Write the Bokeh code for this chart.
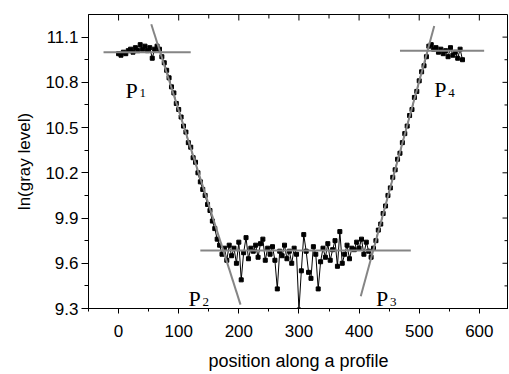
from bokeh.plotting import figure
from bokeh.models import Range1d, FixedTicker, PrintfTickFormatter
from bokeh.core.properties import value
from bokeh.embed import file_html
from bokeh.resources import INLINE

# ---- data: position along the profile and ln(gray level) ----
position = [
    0, 4, 8, 12, 16, 20, 24, 28, 32, 36, 40, 44, 48, 52, 56, 60, 64,
    68, 72, 76, 80, 84, 88, 92, 96, 100, 104, 108, 112, 116, 120, 124, 128,
    132, 136, 140, 144, 148, 152, 156, 160, 164, 168, 172, 176,
    180, 184, 188, 192, 196, 200, 204, 208, 212, 216, 220, 224, 228, 232,
    236, 240, 244, 248, 252, 256, 260, 264, 268, 272, 276, 280, 284, 288,
    292, 296, 300, 304, 308, 312, 316, 320, 324, 328, 332, 336, 340, 344,
    348, 352, 356, 360, 364, 368, 372, 376, 380, 384, 388, 392, 396, 400,
    404, 408, 412, 416, 420,
    424, 428, 432, 436, 440, 444, 448, 452, 456, 460, 464, 468, 472, 476,
    480, 484, 488, 492, 496, 500, 504, 508, 512, 516,
    520, 524, 528, 532, 536, 540, 544, 548, 552, 556, 560, 564, 568, 572,
]
ln_gray = [
    10.99, 10.98, 11.00, 10.99, 11.01, 11.02, 11.00, 11.03, 11.01, 11.05,
    11.02, 11.04, 11.01, 11.03, 10.96, 11.02, 11.04,
    11.02, 10.97, 10.93, 10.88, 10.83, 10.77, 10.73, 10.66, 10.62, 10.57,
    10.51, 10.47, 10.40, 10.37, 10.30, 10.27,
    10.20, 10.14, 10.09, 10.05, 9.99, 9.95, 9.88, 9.83, 9.76, 9.72, 9.66, 9.70,
    9.62, 9.72, 9.65, 9.70, 9.60, 9.74, 9.49, 9.67, 9.77, 9.63, 9.70, 9.68,
    9.72, 9.64, 9.73, 9.76, 9.62, 9.70, 9.66, 9.71, 9.62, 9.43, 9.68, 9.65,
    9.72, 9.63, 9.68, 9.60, 9.70, 9.66, 9.29, 9.55, 9.79, 9.68, 9.54, 9.50,
    9.71, 9.66, 9.43, 9.61, 9.70, 9.64, 9.73, 9.62, 9.69, 9.75, 9.58, 9.81,
    9.60, 9.66, 9.72, 9.63, 9.70, 9.69, 9.74, 9.70, 9.76, 9.66, 9.74, 9.68,
    9.64,
    9.70, 9.75, 9.82, 9.86, 9.93, 9.98, 10.05, 10.10, 10.17, 10.22, 10.29,
    10.33, 10.40, 10.46, 10.51, 10.58, 10.62, 10.70, 10.74, 10.81, 10.87,
    10.91, 10.97, 11.04,
    11.05, 11.02, 11.03, 11.00, 11.02, 10.99, 11.01, 10.97, 11.03, 10.98,
    11.00, 10.96, 11.02, 10.95,
]

# fitted straight lines (start x, start y, end x, end y)
fit_x0 = [-25, 54.4, 136, 402.8, 468]
fit_y0 = [11.0, 11.185, 9.685, 9.381, 11.01]
fit_x1 = [120, 202.8, 486, 525, 608]
fit_y1 = [11.0, 9.326, 9.685, 11.174, 11.01]

# point labels
pt_names = ["P", "P", "P", "P"]
pt_subs = ["1", "2", "3", "4"]
pt_x = [11.6, 116.4, 428, 525]
pt_y = [10.746, 9.366, 9.366, 10.752]

x_ticks = [0, 100, 200, 300, 400, 500, 600]
x_minor = [-50, 50, 150, 250, 350, 450, 550]
y_ticks = [9.3, 9.6, 9.9, 10.2, 10.5, 10.8, 11.1]
y_minor = [9.45, 9.75, 10.05, 10.35, 10.65, 10.95]

FRAME_W, FRAME_H = 420, 294
X_LO, X_HI = -50.0, 648.5
Y_LO, Y_HI = 9.3, 11.25
PX_X = (X_HI - X_LO) / FRAME_W   # data units per screen pixel
PX_Y = (Y_HI - Y_LO) / FRAME_H

FONT = "Liberation Sans"

p = figure(frame_width=FRAME_W, frame_height=FRAME_H,
           x_range=Range1d(X_LO, X_HI), y_range=Range1d(Y_LO, Y_HI),
           output_backend="svg", toolbar_location=None,
           min_border_left=88, min_border_right=0,
           min_border_top=14, min_border_bottom=0)
# frame outline gives the top edge (right edge falls at the page edge)
p.outline_line_color = "black"
p.outline_line_width = 1
p.outline_line_alpha = 1.0
p.xgrid.visible = False
p.ygrid.visible = False
p.background_fill_color = "white"
p.border_fill_color = "white"

# bottom axis
xa = p.xaxis[0]
xa.ticker = FixedTicker(ticks=x_ticks, minor_ticks=x_minor + x_ticks)
xa.axis_label = "position along a profile"
xa.axis_label_text_font = FONT
xa.axis_label_text_font_size = "18px"
xa.axis_label_text_font_style = "normal"
xa.axis_label_standoff = 11
xa.major_label_text_font = FONT
xa.major_label_text_font_size = "17px"
xa.major_label_standoff = 11
xa.major_tick_out = 5
xa.major_tick_in = 0
xa.minor_tick_out = 3
xa.minor_tick_in = 0
xa.axis_line_color = "black"
xa.major_tick_line_color = "black"
xa.minor_tick_line_color = "black"
xa.major_label_text_color = "black"
xa.axis_label_text_color = "black"

# left axis
ya = p.yaxis[0]
ya.ticker = FixedTicker(ticks=y_ticks, minor_ticks=y_minor + y_ticks)
ya.formatter = PrintfTickFormatter(format="%.1f")
ya.axis_label = "ln(gray level)"
ya.axis_label_text_font = FONT
ya.axis_label_text_font_size = "17px"
ya.axis_label_text_font_style = "normal"
ya.axis_label_standoff = 8
ya.major_label_text_font = FONT
ya.major_label_text_font_size = "17px"
ya.major_label_standoff = 3
ya.major_tick_out = 7
ya.major_tick_in = 0
ya.minor_tick_out = 4
ya.minor_tick_in = 0
ya.axis_line_color = "black"
ya.major_label_text_color = "black"
ya.axis_label_text_color = "black"

# inward ticks along the top and right edges (no labels)
p.segment(x0=x_ticks, y0=[Y_HI] * len(x_ticks),
          x1=x_ticks, y1=[Y_HI - 6 * PX_Y] * len(x_ticks),
          line_color="black", line_width=1)
p.segment(x0=x_minor, y0=[Y_HI] * len(x_minor),
          x1=x_minor, y1=[Y_HI - 4 * PX_Y] * len(x_minor),
          line_color="black", line_width=1)
p.segment(x0=[X_HI] * len(y_ticks), y0=y_ticks,
          x1=[X_HI - 6 * PX_X] * len(y_ticks), y1=y_ticks,
          line_color="black", line_width=1)
p.segment(x0=[X_HI] * len(y_minor), y0=y_minor,
          x1=[X_HI - 4 * PX_X] * len(y_minor), y1=y_minor,
          line_color="black", line_width=1)

# measured profile
p.line(position, ln_gray, line_color="black", line_width=1)
p.scatter(position, ln_gray, marker="square", size=4,
          fill_color="black", line_color="black")

# fitted lines
p.segment(x0=fit_x0, y0=fit_y0, x1=fit_x1, y1=fit_y1,
          line_color="#858585", line_width=2)

# labels P with subscripts
p.text(x=pt_x, y=pt_y, text=pt_names, text_font=value("Liberation Serif"),
       text_font_size="22px", text_color="black",
       text_align="left", text_baseline="alphabetic")
p.text(x=pt_x, y=pt_y, text=pt_subs, text_font=value("Liberation Serif"),
       text_font_size="13px", text_color="black",
       text_align="left", text_baseline="alphabetic",
       x_offset=14, y_offset=3)

open("out.html", "w").write(file_html(p, INLINE))
